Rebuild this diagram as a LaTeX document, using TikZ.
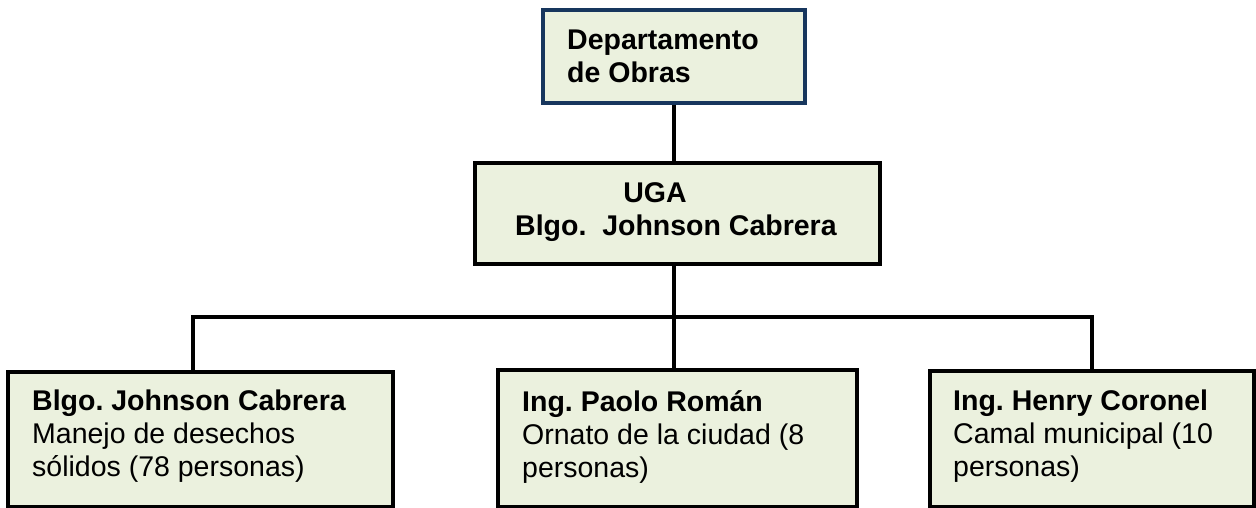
\documentclass[tikz,border=0pt]{standalone}
\usepackage{fontspec}
\setmainfont{Liberation Sans}
\frenchspacing
\definecolor{boxfill}{RGB}{235,241,222}
\definecolor{navy}{RGB}{23,54,93}
\tikzset{
  box/.style={draw=black, line width=3.4pt, fill=boxfill, rectangle, inner sep=0pt},
  topbox/.style={box, draw=navy},
  txt/.style={anchor=north west, inner sep=0pt, align=left, font=\fontsize{28.5}{33}\selectfont},
  conn/.style={line width=3.2pt, draw=black}
}
\begin{document}
\begin{tikzpicture}[x=1pt,y=-1pt]
\useasboundingbox (0,0) rectangle (1256,508);
% boxes
\node[topbox, minimum width=262pt, minimum height=93pt] (dep) at (674,56.5) {};
\node[box, minimum width=405pt, minimum height=101pt] (uga) at (677.5,213.5) {};
\node[box, minimum width=385pt, minimum height=135pt] (b1) at (200.5,439.5) {};
\node[box, minimum width=359pt, minimum height=137pt] (b2) at (677.5,438.5) {};
\node[box, minimum width=324pt, minimum height=136pt] (b3) at (1092,439) {};
% connector points
\coordinate (hl) at (193,317);
\coordinate (hr) at (1092,317);
% connectors
\begin{scope}[on background layer/.try]
\draw[conn] (dep.south -| 674,0) -- (uga.north -| 674,0);
\draw[conn] (uga.south -| 674,0) -- (b2.north -| 674,0);
\draw[conn] (b1.north -| hl) -- (hl) -- (hr) -- (b3.north -| hr);
\end{scope}
% texts
\node[txt] (tdep) at (567,30) {\textbf{Departamento}\\\textbf{de Obras}};
\node[txt, anchor=north] (tuga1) at (655,182) {\textbf{UGA}};
\node[txt] (tuga2) at (515,215) {\textbf{Blgo.\ \ Johnson Cabrera}};
\node[txt] (t1) at (32,390) {\textbf{Blgo. Johnson Cabrera}\\Manejo de desechos\\sólidos (78 personas)};
\node[txt] (t2) at (522,390) {\textbf{Ing. Paolo Román}\\Ornato de la ciudad (8\\personas)};
\node[txt] (t3) at (953,390) {\textbf{Ing. Henry Coronel}\\Camal municipal (10\\personas)};
\end{tikzpicture}
\end{document}
